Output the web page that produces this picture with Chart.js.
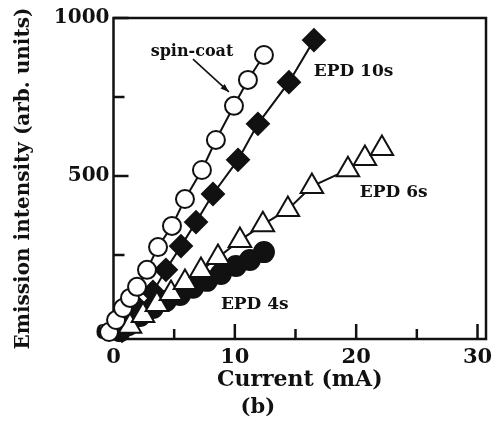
<!DOCTYPE html>
<html>
<head>
<meta charset="utf-8">
<script src="https://cdn.jsdelivr.net/npm/chart.js@4.4.0/dist/chart.umd.min.js"></script>
<style>
  html, body { margin: 0; padding: 0; background: #fff; }
  #wrap { width: 502px; height: 422px; }
</style>
</head>
<body>
<div id="wrap"><canvas id="c" width="502" height="422"></canvas></div>
<script>
// Emission intensity vs. drive current for four film preparations
const spinCoatCurrent   = [-0.70, -0.37, 0.21, 0.78, 1.36, 1.94, 2.76, 3.67, 4.82, 5.89, 7.29, 8.44, 9.93, 11.08, 12.40];
const spinCoatIntensity = [-19, 6, 44, 82, 114, 149, 203, 275, 342, 427, 519, 614, 722, 804, 883];

const epd10Current   = [0.70, 1.36, 2.18, 3.25, 4.32, 5.56, 6.80, 8.20, 10.26, 11.90, 14.46, 16.52];
const epd10Intensity = [10, 38, 76, 133, 203, 278, 354, 443, 551, 665, 797, 930];

const epd6Current   = [1.36, 2.43, 3.58, 4.74, 5.89, 7.21, 8.61, 10.42, 12.31, 14.37, 16.35, 19.32, 20.72, 22.12];
const epd6Intensity = [24, 58, 93, 128, 163, 201, 242, 296, 346, 394, 467, 520, 555, 587];

const epd4Current   = [0.54, 1.19, 2.18, 3.25, 4.32, 5.48, 6.55, 7.70, 8.85, 10.09, 11.24, 12.40];
const epd4Intensity = [9, 28, 57, 82, 104, 123, 146, 168, 190, 215, 234, 259];

const xTicks = [0, 5, 10, 15, 20, 25, 30];
const xLabelled = [0, 10, 20, 30];
const yTicks = [0, 250, 500, 750, 1000];
const yLabelled = [0, 500, 1000];

const FONT = "'DejaVu Serif', 'Liberation Serif', serif";
const INK = '#111';

function pairs(xs, ys) { return xs.map((x, i) => ({ x: x, y: ys[i] })); }

// text labels placed in data units
const notes = [
  { text: 'spin-coat', x: 6.47, y: 892, align: 'center', size: 16 },
  { text: 'EPD 10s', x: 16.5, y: 829, align: 'left', size: 17 },
  { text: 'EPD 6s', x: 20.3, y: 446, align: 'left', size: 17 },
  { text: 'EPD 4s', x: 8.85, y: 92, align: 'left', size: 17 }
];
const arrowFrom = { x: 6.55, y: 870 };
const arrowTo = { x: 9.51, y: 766 };

const framePlugin = {
  id: 'frame',
  beforeDatasetsDraw(chart) {
    const { ctx, chartArea: a, scales } = chart;
    ctx.save();
    ctx.strokeStyle = INK;
    ctx.lineWidth = 2.5;
    ctx.strokeRect(a.left, a.top, a.right - a.left, a.bottom - a.top);
    ctx.beginPath();
    xTicks.forEach(v => {
      const px = scales.x.getPixelForValue(v);
      const len = xLabelled.includes(v) ? 15 : 10;
      ctx.moveTo(px, a.bottom);
      ctx.lineTo(px, a.bottom - len);
    });
    yTicks.forEach(v => {
      const py = scales.y.getPixelForValue(v);
      const len = yLabelled.includes(v) ? 15 : 11;
      ctx.moveTo(a.left, py);
      ctx.lineTo(a.left + len, py);
    });
    ctx.stroke();
    ctx.restore();
  }
};

const notePlugin = {
  id: 'notes',
  afterDatasetsDraw(chart) {
    const { ctx, scales } = chart;
    const sx = scales.x, sy = scales.y;
    ctx.save();
    ctx.fillStyle = INK;
    ctx.textBaseline = 'middle';
    notes.forEach(n => {
      ctx.font = 'bold ' + n.size + 'px ' + FONT;
      ctx.textAlign = n.align;
      ctx.fillText(n.text, sx.getPixelForValue(n.x), sy.getPixelForValue(n.y));
    });
    // arrow from the spin-coat label to its curve
    const x0 = sx.getPixelForValue(arrowFrom.x), y0 = sy.getPixelForValue(arrowFrom.y);
    const x1 = sx.getPixelForValue(arrowTo.x), y1 = sy.getPixelForValue(arrowTo.y);
    ctx.strokeStyle = INK;
    ctx.lineWidth = 1.6;
    ctx.beginPath();
    ctx.moveTo(x0, y0);
    ctx.lineTo(x1, y1);
    ctx.stroke();
    const ang = Math.atan2(y1 - y0, x1 - x0);
    ctx.beginPath();
    ctx.moveTo(x1, y1);
    ctx.lineTo(x1 - 9 * Math.cos(ang - 0.35), y1 - 9 * Math.sin(ang - 0.35));
    ctx.lineTo(x1 - 9 * Math.cos(ang + 0.35), y1 - 9 * Math.sin(ang + 0.35));
    ctx.closePath();
    ctx.fill();
    // panel tag
    ctx.font = 'bold 21px ' + FONT;
    ctx.textAlign = 'center';
    ctx.fillText('(b)', sx.getPixelForValue(11.9), chart.height - 14);
    ctx.restore();
  }
};

const common = { showLine: true, borderColor: INK, borderWidth: 2, clip: false,
                 pointBorderColor: INK, pointBorderWidth: 2, pointHoverRadius: 0 };

new Chart(document.getElementById('c'), {
  type: 'scatter',
  data: {
    datasets: [
      Object.assign({ label: 'spin-coat', data: pairs(spinCoatCurrent, spinCoatIntensity),
        pointStyle: 'circle', pointRadius: 9, pointBackgroundColor: '#fff' }, common),
      Object.assign({ label: 'EPD 6s', data: pairs(epd6Current, epd6Intensity),
        pointStyle: 'triangle', pointRadius: 13, pointBackgroundColor: '#fff' }, common),
      Object.assign({ label: 'EPD 10s', data: pairs(epd10Current, epd10Intensity),
        pointStyle: 'rectRot', pointRadius: 11, pointBackgroundColor: INK }, common),
      Object.assign({ label: 'EPD 4s', data: pairs(epd4Current, epd4Intensity),
        pointStyle: 'circle', pointRadius: 10, pointBackgroundColor: INK }, common)
    ]
  },
  options: {
    responsive: false,
    animation: false,
    devicePixelRatio: 1,
    layout: { padding: { left: 0, right: 16, top: 18, bottom: 0 } },
    plugins: { legend: { display: false }, tooltip: { enabled: false } },
    scales: {
      x: {
        type: 'linear', min: 0, max: 30.7,
        afterBuildTicks(s) { s.ticks = xTicks.map(v => ({ value: v })); },
        afterFit(s) { s.height = 83; },
        grid: { display: false, drawTicks: false },
        border: { display: false },
        ticks: {
          padding: 6, color: INK, maxRotation: 0, autoSkip: false,
          font: { family: FONT, size: 21, weight: 'bold' },
          callback: v => (xLabelled.includes(v) ? String(v) : '')
        },
        title: {
          display: true, text: 'Current (mA)', color: INK,
          font: { family: FONT, size: 22, weight: 'bold' },
          padding: { top: 29, bottom: 29 }
        }
      },
      y: {
        type: 'linear', min: -16, max: 1000,
        afterBuildTicks(s) { s.ticks = yTicks.map(v => ({ value: v })); },
        afterFit(s) { s.width = 113.5; },
        grid: { display: false, drawTicks: false },
        border: { display: false },
        ticks: {
          padding: 4, color: INK, autoSkip: false,
          font: { family: FONT, size: 20, weight: 'bold' },
          callback: v => (yLabelled.includes(v) ? String(v) : '')
        },
        title: {
          display: true, text: 'Emission intensity (arb. units)', color: INK,
          font: { family: FONT, size: 20, weight: 'bold' },
          padding: { top: 12, bottom: 12 }
        }
      }
    }
  },
  plugins: [framePlugin, notePlugin]
});
</script>
</body>
</html>
